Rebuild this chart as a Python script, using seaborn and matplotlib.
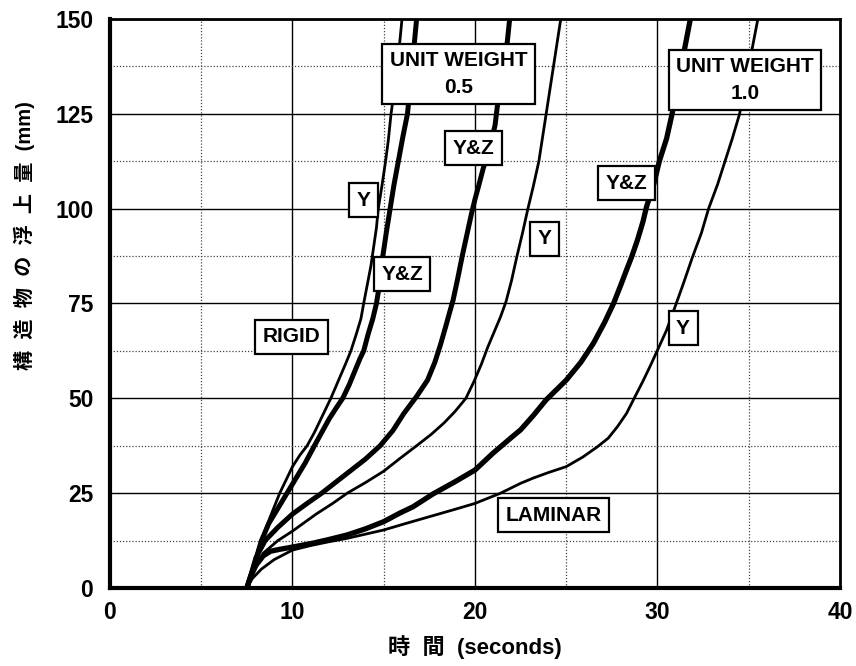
import matplotlib
matplotlib.use("Agg")
import matplotlib.pyplot as plt
import seaborn as sns
from matplotlib.ticker import MultipleLocator

sns.set_style("white")
FONT = ["Liberation Sans", "Noto Sans CJK JP"]
plt.rcParams["font.family"] = FONT
plt.rcParams["font.weight"] = "bold"
for k in ["text.color", "axes.labelcolor", "xtick.color", "ytick.color"]:
    plt.rcParams[k] = "black"

# ---- data ----
a_x = [0, 7.5, 7.7, 7.9, 8.1, 8.4, 8.8, 9.3, 9.7, 10.0, 10.4, 10.8, 11.2, 11.6, 12.1, 12.5, 12.9, 13.2,
       13.5, 13.75, 13.9, 14.1, 14.3, 14.45, 14.6, 14.7, 14.9, 15.1, 15.25, 15.4, 15.6, 15.8, 16.0]
a_y = [0, 0, 3, 6.5, 10, 14, 19, 25, 29, 32, 35, 37.5, 41, 45, 50, 54.5, 59, 62.5,
       67, 71, 75, 80, 85, 90, 95, 100, 106, 112.5, 118, 125, 132, 140, 150]

b_x = [7.5, 7.7, 7.9, 8.3, 8.7, 9.2, 9.7, 10.2, 10.7, 11.2, 11.6, 12.0, 12.4, 12.75, 13.1, 13.4, 13.7,
       13.9, 14.15, 14.4, 14.6, 14.8, 14.95, 15.15, 15.35, 15.55, 15.8, 16.05, 16.3, 16.55, 16.8]
b_y = [0, 3, 6, 12.5, 17, 21, 25, 29, 33, 37.5, 41, 44.5, 47.5, 50, 53.5, 57, 60.5,
       62.5, 67, 71, 75, 81, 87.5, 94, 100, 106, 112.5, 119, 125, 137, 150]

c_x = [7.5, 7.7, 8.0, 8.5, 9.2, 10.0, 10.8, 11.6, 12.4, 13.2, 14.0, 14.8, 15.5, 16.1, 16.8, 17.4,
       17.8, 18.1, 18.4, 18.6, 18.8, 19.05, 19.3, 19.55, 19.8, 20.0, 20.2, 20.45, 20.8, 21.1,
       21.3, 21.55, 21.77, 21.9]
c_y = [0, 3, 8, 12.5, 16, 19.5, 22.3, 25, 28, 31, 34, 37.5, 41.5, 46, 50.5, 54.8,
       59.5, 64, 69, 72.5, 75.9, 81.5, 87.5, 93, 98.5, 102.5, 106, 110.6, 116, 122,
       130, 137, 144, 150]

d_x = [7.5, 7.8, 8.4, 9.2, 10.0, 11.3, 12.2, 13.0, 14.0, 15.0, 15.9, 16.8, 17.6, 18.3, 18.9, 19.5,
       19.95, 20.35, 20.7, 21.05, 21.4, 21.7, 22.0, 22.3, 22.6, 22.9, 23.2, 23.5, 23.9, 24.3, 24.7]
d_y = [0, 4, 9.2, 12.5, 15, 19.5, 22.3, 25, 27.8, 30.8, 34.2, 37.5, 40.5, 43.5, 46.5, 50,
       54.5, 59, 63.5, 67.5, 71.5, 75.5, 81, 87.5, 93.5, 100, 106, 112.5, 125, 137.5, 150]

e_x = [7.5, 7.7, 8.0, 8.4, 8.8, 9.3, 10.0, 11.1, 12.0, 13.0, 14.0, 15.0, 15.9, 16.6, 17.7, 18.9,
       20.0, 21.0, 22.0, 22.5, 23.2, 23.9, 25.0, 25.8, 26.5, 27.1, 27.6, 28.0, 28.3, 28.6, 28.9,
       29.2, 29.4, 29.8, 30.1, 30.5, 30.8, 31.3, 31.8]
e_y = [0, 3, 6, 8.5, 9.7, 10.2, 10.8, 11.8, 12.8, 14.0, 15.6, 17.5, 19.8, 21.4, 24.8, 28,
       31.1, 35.6, 39.7, 41.7, 45.5, 49.6, 54.8, 59.5, 64.6, 70, 75.1, 80, 83.8, 87.5, 91.7,
       96.5, 100.5, 106.5, 112.5, 118.5, 125, 137.5, 150]

f_x = [7.5, 7.8, 8.3, 9.0, 10.0, 11.0, 12.0, 13.0, 14.0, 15.0, 16.2, 17.5, 18.8, 20.0, 21.4, 22.5,
       23.2, 24.0, 25.0, 25.9, 26.7, 27.3, 27.8, 28.3, 28.7, 29.2, 29.6, 30.0, 30.5, 30.9, 31.4,
       31.9, 32.4, 32.8, 33.3, 33.7, 34.1, 34.5, 35.0, 35.5]
f_y = [0, 2.5, 5, 7.5, 10, 11.2, 12.2, 13.1, 14.2, 15.3, 17, 18.8, 20.6, 22.3, 25, 27.6,
       29, 30.4, 32, 34.5, 37.2, 39.5, 42.5, 46, 49.8, 54.5, 58.5, 62.7, 68, 73.3, 80,
       87, 93.5, 100, 106.5, 112.5, 118.5, 125, 137.5, 150]

curves = [(a_x, a_y, 2.0), (b_x, b_y, 3.6), (c_x, c_y, 3.6),
          (d_x, d_y, 2.0), (e_x, e_y, 3.8), (f_x, f_y, 2.0)]

labels = ["UNIT WEIGHT\n0.5", "Y&Z", "Y", "Y&Z", "RIGID", "LAMINAR",
          "Y", "Y&Z", "UNIT WEIGHT\n1.0", "Y"]
label_x = [19.1, 19.9, 13.9, 16.0, 9.93, 24.3, 23.8, 28.3, 34.8, 31.4]
label_y = [135.5, 115.9, 102.2, 82.7, 66.2, 19.2, 92.1, 106.7, 133.9, 68.5]

x_ticks = [0, 10, 20, 30, 40]
y_ticks = [0, 25, 50, 75, 100, 125, 150]

# ---- figure ----
fig = plt.figure(figsize=(8.56, 6.66), dpi=100)
ax = fig.add_axes([0.1285, 0.1171, 0.8528, 0.8544])

for cx, cy, lw in curves:
    sns.lineplot(x=cx, y=cy, ax=ax, color="black", linewidth=lw,
                 sort=False, estimator=None)

ax.set_xlim(0, 40)
ax.set_ylim(0, 150)
ax.set_xticks(x_ticks)
ax.set_yticks(y_ticks)
ax.xaxis.set_minor_locator(MultipleLocator(5))
ax.yaxis.set_minor_locator(MultipleLocator(12.5))

ax.grid(which="major", color="black", linewidth=1.0, linestyle="-", zorder=0)
ax.grid(which="minor", color="#444444", linewidth=0.9, linestyle=(0, (1, 1.5)), zorder=0)
ax.set_axisbelow(True)

ax.tick_params(axis="y", which="major", direction="in", length=6, width=3,
               labelsize=16.5, pad=12)
ax.tick_params(axis="y", which="minor", direction="in", length=4, width=1.5)
ax.tick_params(axis="x", which="major", direction="in", length=5, width=2,
               labelsize=16.5, pad=9)
ax.tick_params(axis="x", which="minor", direction="in", length=4, width=1.5)
for lab in ax.get_xticklabels() + ax.get_yticklabels():
    lab.set_fontweight("bold")

for side, w in [("left", 3), ("bottom", 3), ("top", 2), ("right", 2)]:
    ax.spines[side].set_visible(True)
    ax.spines[side].set_color("black")
    ax.spines[side].set_linewidth(w)

for t, lx, ly in zip(labels, label_x, label_y):
    ax.text(lx, ly, t, ha="center", va="center", fontsize=15, fontweight="bold",
            family=FONT, linespacing=1.5, zorder=5,
            bbox=dict(boxstyle="square,pad=0.36", facecolor="white",
                      edgecolor="black", linewidth=1.6))

ax.set_xlabel("時  間  (seconds)", fontsize=16, fontweight="bold", family=FONT, labelpad=8)
ax.set_ylabel("構  造  物  の  浮  上  量  (mm)", fontsize=14.5, fontweight="bold", family=FONT)
ax.yaxis.set_label_coords(-0.103, 0.62)

fig.savefig("out.png", dpi=100)
